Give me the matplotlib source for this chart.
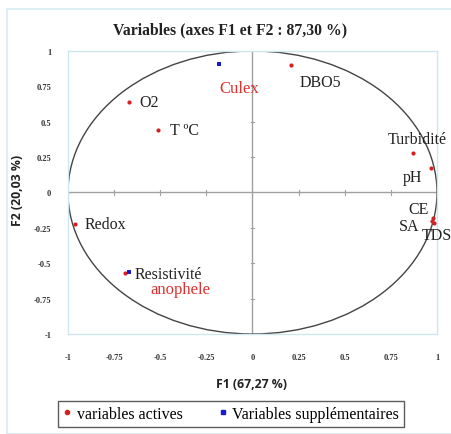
import numpy as np
import matplotlib
matplotlib.use("Agg")
import matplotlib.pyplot as plt
from matplotlib.patches import Ellipse, Rectangle
from matplotlib.lines import Line2D

# Active variables
act_names = ["DBO5", "O2", "T ºC", "Turbidité", "pH", "CE", "SA", "TDS", "Redox", "Resistivité"]
act_x = [0.21, -0.67, -0.51, 0.87, 0.97, 0.98, 0.975, 0.985, -0.96, -0.69]
act_y = [0.90, 0.64, 0.44, 0.28, 0.17, -0.18, -0.20, -0.215, -0.22, -0.57]
# Supplementary variables
sup_names = ["Culex", "anophele"]
sup_x = [-0.18, -0.67]
sup_y = [0.91, -0.565]

ticks = [-1, -0.75, -0.5, -0.25, 0, 0.25, 0.5, 0.75, 1]
tick_labels = ["-1", "-0.75", "-0.5", "-0.25", "0", "0.25", "0.5", "0.75", "1"]

serif = "Liberation Serif"

fig = plt.figure(figsize=(4.52, 4.35), dpi=100)
fig.patches.append(Rectangle((7/452, 0.0), 1.2, 1 - 10/435, transform=fig.transFigure,
                             fill=False, edgecolor="#d4ecf2", linewidth=1.2))
ax = fig.add_axes([0.1504, 0.2299, 0.8164, 0.6506])
ax.set_xlim(-1, 1)
ax.set_ylim(-1, 1)
for s in ax.spines.values():
    s.set_color("#cfe6ee")
    s.set_linewidth(1.0)

ax.set_xticks(ticks)
ax.set_yticks(ticks)
ax.set_xticklabels(tick_labels, fontfamily=serif, fontsize=6, fontweight="bold", color="#333333")
ax.set_yticklabels(tick_labels, fontfamily=serif, fontsize=6, fontweight="bold", color="#333333")
ax.tick_params(axis="x", length=0, pad=14)
ax.tick_params(axis="y", length=0, pad=12)

# crosshair
ax.axhline(0, color="#a0a0a0", lw=1.0, zorder=1)
ax.axvline(0, color="#a0a0a0", lw=1.0, zorder=1)
for t in ticks:
    if t != 0:
        ax.plot([t, t], [-0.015, 0.015], color="#a0a0a0", lw=0.8, zorder=1)
        ax.plot([-0.01, 0.01], [t, t], color="#a0a0a0", lw=0.8, zorder=1)

ax.add_patch(Ellipse((0, 0), 2, 2, fill=False, edgecolor="#444444", lw=1.0, zorder=2))

ax.scatter(act_x, act_y, s=9, color="#d42020", zorder=3, linewidths=0)
ax.scatter(sup_x, sup_y, s=12, color="#1a1acc", marker="s", zorder=4, linewidths=0)

tk = dict(fontfamily=serif, fontsize=11.5, color="#222222", zorder=5)
ax.text(0.37, 0.78, "DBO5", ha="center", va="center", **tk)
ax.text(-0.56, 0.64, "O2", ha="center", va="center", **tk)
ax.text(-0.37, 0.44, "T ºC", ha="center", va="center", **tk)
ax.text(0.89, 0.375, "Turbidité", ha="center", va="center", **tk)
ax.text(0.87, 0.106, "pH", ha="center", va="center", **tk)
ax.text(0.90, -0.12, "CE", ha="center", va="center", **tk)
ax.text(0.85, -0.24, "SA", ha="center", va="center", **tk)
ax.text(1.0, -0.30, "TDS", ha="center", va="center", **tk)
ax.text(-0.91, -0.22, "Redox", ha="left", va="center", **tk)
ax.text(-0.64, -0.575, "Resistivité", ha="left", va="center", **tk)
rk = dict(fontfamily=serif, fontsize=12, color="#e03030", zorder=5)
ax.text(-0.07, 0.74, "Culex", ha="center", va="center", **rk)
ax.text(-0.39, -0.685, "anophele", ha="center", va="center", **rk)

fig.text(230/452, 1 - 30/435, "Variables (axes F1 et F2 : 87,30 %)", ha="center", va="center",
         fontfamily=serif, fontsize=11.3, fontweight="bold", color="#222222")
fig.text(252/452, 1 - 385/435, "F1 (67,27 %)", ha="center", va="center",
         fontfamily="Open Sans", fontsize=8.8, fontweight="bold", color="#222222")
fig.text(18/452, 1 - 190/435, "F2 (20,03 %)", ha="center", va="center", rotation=90,
         fontfamily="Open Sans", fontsize=8.8, fontweight="bold", color="#222222")

handles = [Line2D([], [], marker="o", ls="", color="#d42020", markersize=3),
           Line2D([], [], marker="s", ls="", color="#1a1acc", markersize=3)]
leg = fig.legend(handles, ["variables actives", "Variables supplémentaires"], loc="center",
                 bbox_to_anchor=(231/452, 1 - 415/435), ncol=2, frameon=True, fancybox=False,
                 prop={"family": serif, "size": 11.5}, handlelength=0.6, handletextpad=0.3,
                 columnspacing=2.2, borderpad=0.3)
leg.get_frame().set_edgecolor("#333333")
leg.get_frame().set_linewidth(1.0)

fig.savefig("out.png", dpi=100)
